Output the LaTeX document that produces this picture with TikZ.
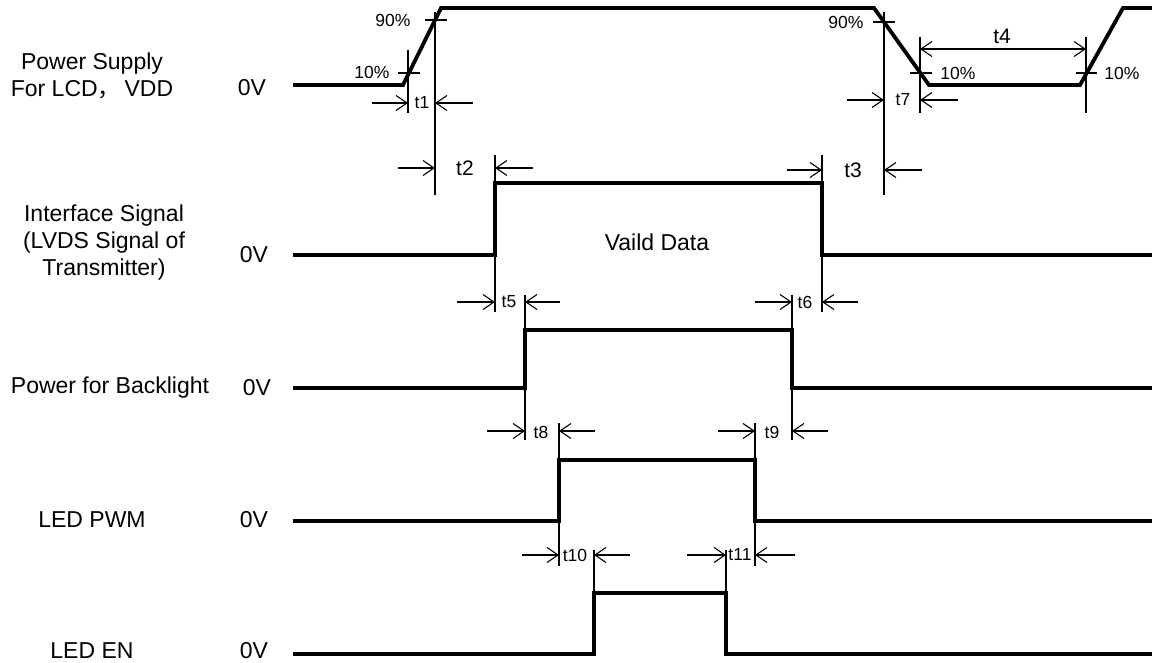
\documentclass[tikz,border=0pt]{standalone}
\usepackage{fontspec}
\setmainfont{Liberation Sans}
\newfontfamily\cjk{Noto Sans CJK SC}
\usetikzlibrary{arrows.meta}
\begin{document}
\begin{tikzpicture}[x=1pt,y=-1pt,
  sig/.style={line width=3.8pt,line join=miter},
  thin/.style={line width=1.1pt},
  dim/.style={line width=1.1pt,-{Straight Barb[length=11pt,width=15pt,line width=1.1pt]}},
  ddim/.style={line width=1.1pt,{Straight Barb[length=11pt,width=15pt,line width=1.1pt]}-{Straight Barb[length=11pt,width=15pt,line width=1.1pt]}},
  lab/.style={font=\fontsize{23}{27}\selectfont,align=center,inner sep=0pt},
  sm/.style={font=\fontsize{17.5}{19}\selectfont,inner sep=0pt},
  md/.style={font=\fontsize{21}{23}\selectfont,inner sep=0pt}]
\useasboundingbox (0,0) rectangle (1152,663);

% left labels
\node[lab] (lvdd) at (92,76) {Power Supply\\For LCD{\cjk ，}\,VDD};
\node[lab] (lif) at (104,243) {Interface Signal\\(LVDS Signal of\\Transmitter)};
\node[lab] (lbl) at (110,388) {Power for Backlight};
\node[lab] (lpwm) at (92,520) {LED PWM};
\node[lab] (len) at (92,651) {LED EN};
\node[lab] (z1) at (252,88) {0V};
\node[lab] (z2) at (254,255) {0V};
\node[lab] (z3) at (257,388) {0V};
\node[lab] (z4) at (254,520) {0V};
\node[lab] (z5) at (254,651) {0V};
\node[lab] (vd) at (657,242) {Vaild Data};

% signals
\draw[sig] (293,85) -- (403,85) -- (441,8) -- (874,8) -- (929,85) -- (1080,85) -- (1123,8) -- (1152,8);
\draw[sig] (293,255) -- (495,255) -- (495,183) -- (822,183) -- (822,255) -- (1152,255);
\draw[sig] (293,388) -- (525,388) -- (525,330) -- (792,330) -- (792,388) -- (1152,388);
\draw[sig] (293,521) -- (559,521) -- (559,460) -- (755,460) -- (755,521) -- (1152,521);
\draw[sig] (293,654) -- (594,654) -- (594,593) -- (726,593) -- (726,654) -- (1152,654);

% VDD crosses
\draw[thin] (398,73) -- (420,73);
\draw[thin] (408,50) -- (408,113);
\draw[thin] (425,20) -- (447,20);
\draw[thin] (435,12) -- (435,195);
\draw[thin] (873,22) -- (895,22);
\draw[thin] (884,12) -- (884,195);
\draw[thin] (910,73) -- (932,73);
\draw[thin] (920,37) -- (920,113);
\draw[thin] (1076,73) -- (1097,73);
\draw[thin] (1086,37) -- (1086,113);
\node[sm] (p90a) at (393,20) {90\%};
\node[sm] (p10a) at (372,72) {10\%};
\node[sm] (p90b) at (846,22) {90\%};
\node[sm] (p10b) at (958,73) {10\%};
\node[sm] (p10c) at (1122,73) {10\%};

% t1
\draw[dim] (372,103) -- (408,103);
\draw[dim] (473,103) -- (435,103);
\node[sm] (t1) at (422,103) {t1};
% t2
\draw[thin] (495,155) -- (495,183);
\draw[dim] (398,168) -- (435,168);
\draw[dim] (533,168) -- (495,168);
\node[md] (t2) at (465,168) {t2};
% t3
\draw[thin] (822,155) -- (822,183);
\draw[dim] (787,170) -- (822,170);
\draw[dim] (922,170) -- (884,170);
\node[md] (t3) at (853,170) {t3};
% t4
\draw[ddim] (920,49) -- (1086,49);
\node[md] (t4) at (1002,36) {t4};
% t7
\draw[dim] (847,100) -- (884,100);
\draw[dim] (958,100) -- (920,100);
\node[sm] (t7) at (903,100) {t7};
% t5
\draw[thin] (495,255) -- (495,312);
\draw[thin] (525,295) -- (525,330);
\draw[dim] (457,302) -- (495,302);
\draw[dim] (560,302) -- (525,302);
\node[sm] (t5) at (509,302) {t5};
% t6
\draw[thin] (792,295) -- (792,330);
\draw[thin] (822,255) -- (822,312);
\draw[dim] (755,302) -- (792,302);
\draw[dim] (858,302) -- (822,302);
\node[sm] (t6) at (805,302) {t6};
% t8
\draw[thin] (525,388) -- (525,440);
\draw[thin] (559,423) -- (559,460);
\draw[dim] (487,431) -- (525,431);
\draw[dim] (595,431) -- (559,431);
\node[sm] (t8) at (541,432) {t8};
% t9
\draw[thin] (755,423) -- (755,460);
\draw[thin] (792,388) -- (792,440);
\draw[dim] (718,431) -- (755,431);
\draw[dim] (828,431) -- (792,431);
\node[sm] (t9) at (772,432) {t9};
% t10
\draw[thin] (559,521) -- (559,566);
\draw[thin] (594,550) -- (594,593);
\draw[dim] (522,555) -- (559,555);
\draw[dim] (630,555) -- (594,555);
\node[sm] (t10) at (575,555) {t10};
% t11
\draw[thin] (726,550) -- (726,593);
\draw[thin] (755,521) -- (755,566);
\draw[dim] (687,555) -- (726,555);
\draw[dim] (795,555) -- (755,555);
\node[sm] (t11) at (740,555) {t11};
\end{tikzpicture}
\end{document}
